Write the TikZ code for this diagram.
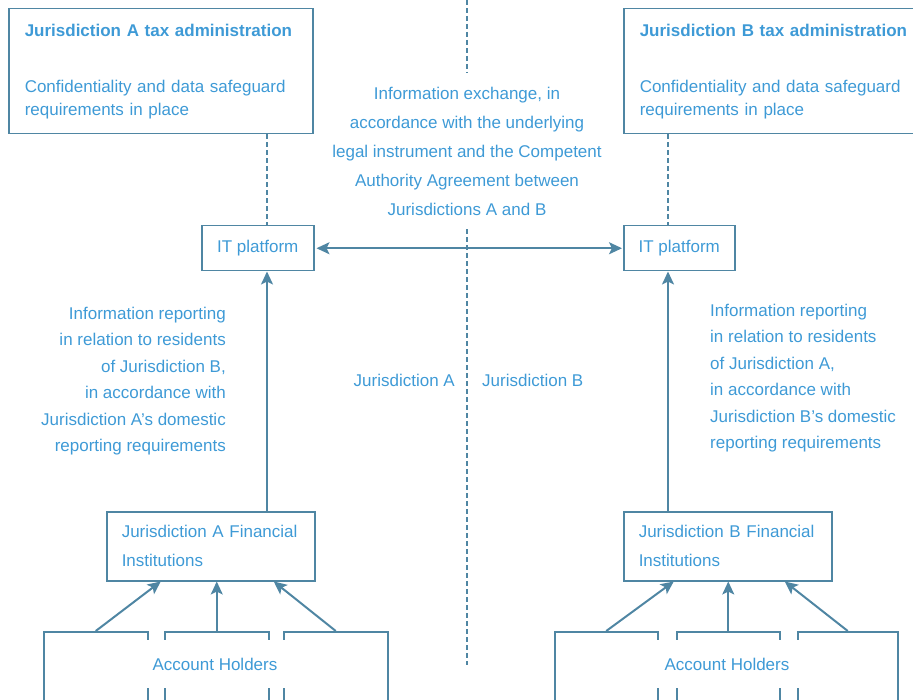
\documentclass[tikz,border=0pt]{standalone}
\usepackage{fontspec}
\setmainfont{Liberation Sans}
\usepackage{xcolor}
\usetikzlibrary{arrows.meta,positioning}
\definecolor{cLine}{HTML}{4F86A3}
\definecolor{cText}{HTML}{3E9AD6}
\tikzset{
  taxbox/.style ={draw=cLine, line width=1.5pt, text=cText, align=left, anchor=north west,
                  font=\fontsize{17}{23}\selectfont, text width=272pt, inner xsep=16pt,
                  minimum height=125pt},
  itbox/.style  ={draw=cLine, line width=1.5pt, text=cText, anchor=north west,
                  font=\fontsize{17}{23}\selectfont, minimum height=45pt},
  fibox/.style  ={draw=cLine, line width=1.5pt, text=cText, align=left, anchor=north west,
                  font=\fontsize{17}{29}\selectfont, text width=178pt, inner xsep=15pt,
                  minimum height=69pt},
  holder/.style ={draw=cLine, line width=1.5pt, anchor=north west, minimum height=80pt},
  hlabel/.style ={fill=white, text=cText, font=\fontsize{17}{23}\selectfont,
                  minimum height=48pt},
  note/.style   ={text=cText, font=\fontsize{17}{26.4}\selectfont, inner sep=0pt},
  arrow/.style  ={-{Stealth[length=13pt,width=12pt,inset=3pt]}, line width=2pt, draw=cLine},
  darrow/.style ={{Stealth[length=13pt,width=12pt,inset=3pt]}-{Stealth[length=13pt,width=12pt,inset=3pt]},
                  line width=2pt, draw=cLine, shorten <=2pt, shorten >=1pt},
  dline/.style  ={draw=cLine, line width=1.2pt, dash pattern=on 5pt off 3pt},
}
\begin{document}
\begin{tikzpicture}[x=1pt,y=-1pt]
  \useasboundingbox (0,0) rectangle (913,700);
  \clip (0,0) rectangle (913,700);
  % tax administrations
  \node[taxbox] (taxa) at (8,8) {\textbf{Jurisdiction A tax administration}\\[33pt]
    Confidentiality and data safeguard\\requirements in place};
  \node[taxbox, text width=280pt] (taxb) at (623,8) {\textbf{Jurisdiction B tax administration}\\[33pt]
    Confidentiality and data safeguard\\requirements in place};
  % IT platforms and financial institutions
  \node[itbox, minimum width=112pt] (ita) at (201,225) {IT platform};
  \node[itbox, minimum width=111pt] (itb) at (623,225) {IT platform};
  \node[fibox] (fia) at (106,511) {Jurisdiction A Financial\\Institutions};
  \node[fibox] (fib) at (623,511) {Jurisdiction B Financial\\Institutions};
  % account holders
  \node[holder, minimum width=104pt] (ha1) at (43,631) {};
  \node[holder, minimum width=104pt] (ha2) at (164,631) {};
  \node[holder, minimum width=104pt] (ha3) at (283,631) {};
  \node[holder, minimum width=103pt] (hb1) at (554,631) {};
  \node[holder, minimum width=103pt] (hb2) at (676,631) {};
  \node[holder, minimum width=100pt] (hb3) at (797,631) {};
  \node[hlabel, minimum width=150pt] (hla) at (215,664) {Account Holders};
  \node[hlabel, minimum width=155pt] (hlb) at (727,664) {Account Holders};
  % notes
  \node[note, align=center, inner ysep=14pt, font=\fontsize{17}{29}\selectfont] (xchg) at (467,151)
    {Information exchange, in\\accordance with the underlying\\legal instrument and the Competent\\Authority Agreement between\\Jurisdictions A and B};
  \node[note, align=right, anchor=north east] (repa) at (226,307)
    {Information reporting\\in relation to residents\\of Jurisdiction B,\\in accordance with\\Jurisdiction A's domestic\\reporting requirements};
  \node[note, align=left, anchor=north west] (repb) at (710,304)
    {Information reporting\\in relation to residents\\of Jurisdiction A,\\in accordance with\\Jurisdiction B's domestic\\reporting requirements};
  \node[note, anchor=east] (jura) at (455,380) {Jurisdiction A};
  \node[note, anchor=west] (jurb) at (482,380) {Jurisdiction B};
  % connectors
  \coordinate (colA) at (267,0);
  \coordinate (colB) at (668,0);
  \coordinate (divtop) at (467,0);
  \coordinate (divbot) at (467,665);
  \draw[dline] (divtop) -- (xchg.north);
  \draw[dline] (xchg.south) -- (divbot);
  \draw[dline] (taxa.south -| colA) -- (ita.north -| colA);
  \draw[dline] (taxb.south -| colB) -- (itb.north -| colB);
  \draw[darrow] (ita.east) -- (itb.west);
  \draw[arrow] (fia.north -| colA) -- (ita.south -| colA);
  \draw[arrow] (fib.north -| colB) -- (itb.south -| colB);
  \draw[arrow] (ha1.north) -- ([xshift=-50pt]fia.south);
  \draw[arrow] (ha2.north) -- (ha2.north |- fia.south);
  \draw[arrow] (ha3.north) -- ([xshift=63pt]fia.south);
  \draw[arrow] (hb1.north) -- ([xshift=-54pt]fib.south);
  \draw[arrow] (hb2.north) -- (hb2.north |- fib.south);
  \draw[arrow] (hb3.north) -- ([xshift=57pt]fib.south);
\end{tikzpicture}
\end{document}
